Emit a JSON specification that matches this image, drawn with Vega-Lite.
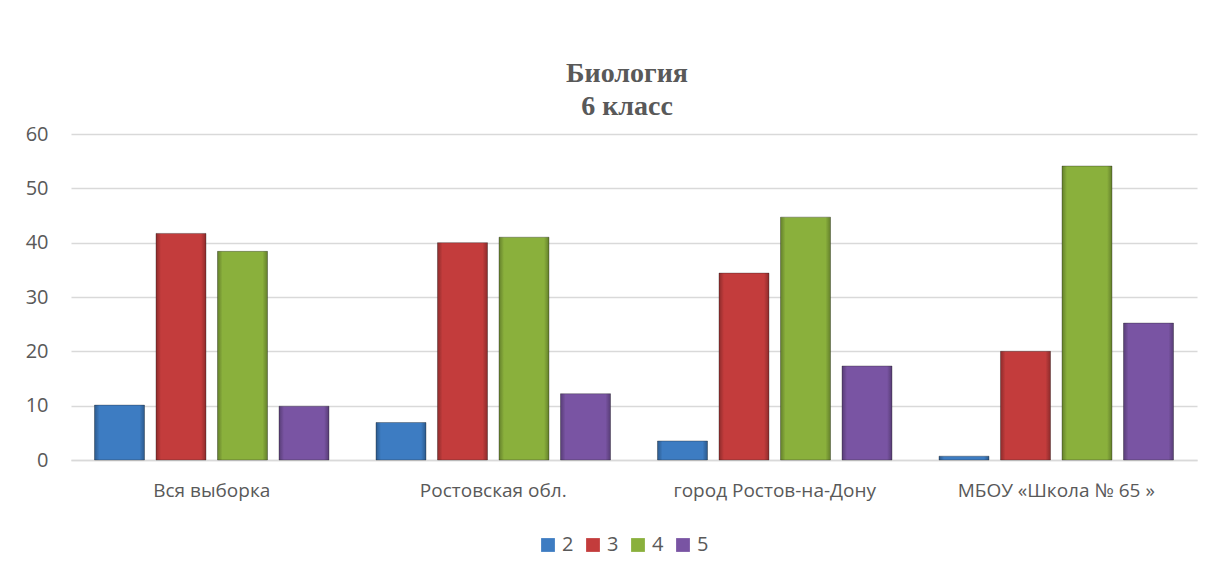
{
  "$schema": "https://vega.github.io/schema/vega-lite/v6.json",
  "width": 1126,
  "height": 326,
  "autosize": {"type": "none"},
  "padding": {"left": 71, "top": 134, "right": 20, "bottom": 118},
  "background": "white",
  "config": {"view": {"stroke": null}},
  "title": {
    "text": ["Биология", "6 класс"],
    "font": "Liberation Serif",
    "fontSize": 28,
    "fontWeight": "bold",
    "color": "#595959",
    "lineHeight": 33,
    "offset": 3,
    "dx": -7,
    "anchor": "middle"
  },
  "data": {
    "values": [
      {"region": "Вся выборка", "grade": "2", "value": 10.1},
      {"region": "Вся выборка", "grade": "3", "value": 41.7},
      {"region": "Вся выборка", "grade": "4", "value": 38.4},
      {"region": "Вся выборка", "grade": "5", "value": 9.9},
      {"region": "Ростовская обл.", "grade": "2", "value": 6.9},
      {"region": "Ростовская обл.", "grade": "3", "value": 40.0},
      {"region": "Ростовская обл.", "grade": "4", "value": 41.0},
      {"region": "Ростовская обл.", "grade": "5", "value": 12.2},
      {"region": "город Ростов-на-Дону", "grade": "2", "value": 3.5},
      {"region": "город Ростов-на-Дону", "grade": "3", "value": 34.4},
      {"region": "город Ростов-на-Дону", "grade": "4", "value": 44.7},
      {"region": "город Ростов-на-Дону", "grade": "5", "value": 17.3},
      {"region": "МБОУ «Школа № 65 »", "grade": "2", "value": 0.7},
      {"region": "МБОУ «Школа № 65 »", "grade": "3", "value": 20.0},
      {"region": "МБОУ «Школа № 65 »", "grade": "4", "value": 54.1},
      {"region": "МБОУ «Школа № 65 »", "grade": "5", "value": 25.2}
    ]
  },
  "encoding": {
    "x": {
      "field": "region",
      "type": "nominal",
      "sort": ["Вся выборка", "Ростовская обл.", "город Ростов-на-Дону", "МБОУ «Школа № 65 »"],
      "scale": {"paddingInner": 0, "paddingOuter": 0},
      "axis": {
        "title": null,
        "labelAngle": 0,
        "labelLimit": 0,
        "domain": true,
        "domainColor": "#d9d9d9",
        "domainWidth": 1.5,
        "ticks": false,
        "grid": false,
        "labelPadding": 21,
        "labelFontSize": 19,
        "labelColor": "#595959",
        "labelFont": "Open Sans"
      }
    },
    "xOffset": {
      "field": "grade",
      "type": "nominal",
      "sort": ["2", "3", "4", "5"],
      "scale": {"paddingInner": 0.187, "paddingOuter": 0.382}
    },
    "y": {
      "field": "value",
      "type": "quantitative",
      "scale": {"domain": [0, 60], "nice": false},
      "axis": {
        "title": null,
        "values": [0, 10, 20, 30, 40, 50, 60],
        "domain": false,
        "ticks": false,
        "grid": true,
        "gridColor": "#d9d9d9",
        "gridWidth": 1.5,
        "labelPadding": 23,
        "labelFontSize": 20,
        "labelColor": "#595959",
        "labelFont": "Open Sans"
      }
    }
  },
  "layer": [
    {
      "mark": {"type": "bar", "stroke": "#222222", "strokeOpacity": 0.35, "strokeWidth": 1},
      "encoding": {
        "color": {
          "field": "grade",
          "type": "nominal",
          "scale": {"domain": ["2", "3", "4", "5"], "range": ["#3d7cc2", "#c33c3c", "#8ab03c", "#7954a3"]},
          "legend": {
            "title": null,
            "orient": "none",
            "legendX": 467,
            "legendY": 401,
            "direction": "horizontal",
            "symbolType": "square",
            "symbolSize": 190,
            "symbolStrokeWidth": 0,
            "labelFontSize": 20,
            "labelColor": "#595959",
            "labelFont": "Open Sans",
            "labelOffset": 4,
            "columnPadding": 9
          }
        }
      }
    },
    {
      "mark": {
        "type": "bar",
        "color": {
          "gradient": "linear",
          "x1": 0, "x2": 1, "y1": 0, "y2": 0,
          "stops": [
            {"offset": 0, "color": "rgba(0,0,0,0.28)"},
            {"offset": 0.1, "color": "rgba(0,0,0,0)"},
            {"offset": 0.9, "color": "rgba(0,0,0,0)"},
            {"offset": 1, "color": "rgba(0,0,0,0.28)"}
          ]
        }
      }
    }
  ]
}
